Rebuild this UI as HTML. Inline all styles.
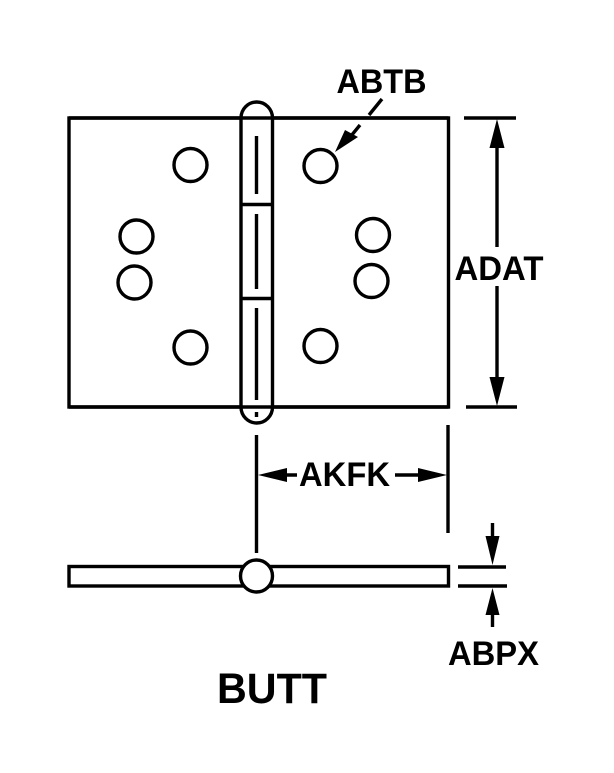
<!DOCTYPE html>
<html>
<head>
<meta charset="utf-8">
<style>
html,body{margin:0;padding:0;background:#fff;width:614px;height:773px;overflow:hidden}
svg{display:block}
text{font-family:"Liberation Sans",Arial,sans-serif;font-weight:bold;fill:#000}
</style>
</head>
<body>
<svg width="614" height="773" viewBox="0 0 614 773" xmlns="http://www.w3.org/2000/svg">
<rect width="614" height="773" fill="#fff"/>
<g fill="none" stroke="#000" stroke-width="3.400">
  <!-- leaf -->
  <rect x="69" y="118" width="379.500" height="289"/>
  <!-- pin -->
  <rect x="241" y="102" width="31" height="321" rx="15.500" ry="16" fill="#fff" stroke="none"/>
  <path d="M69 118H448.500M69 407H448.500"/>
  <path d="M241 118V407A15.750 16 0 0 0 272.500 407V118A15.750 16 0 0 0 241 118Z"/>
  <path d="M241 204.500H272.500M241 298.500H272.500"/>
  <path d="M256.500 136V194M256.500 214V289M256.500 308V400M256.500 412V417"/>
  <!-- holes -->
  <circle cx="190.500" cy="165" r="16.500"/>
  <circle cx="190.500" cy="347.500" r="16.500"/>
  <circle cx="136.500" cy="236.500" r="16.500"/>
  <circle cx="134.500" cy="282.500" r="16.500"/>
  <circle cx="320.500" cy="166" r="16.500"/>
  <circle cx="320.500" cy="346" r="16.500"/>
  <circle cx="373" cy="235" r="16.500"/>
  <circle cx="371.500" cy="281" r="16.500"/>
  <!-- ABTB leader -->
  <path d="M382 99L369 115M360 125L351 136"/>
  <!-- ADAT -->
  <path d="M464 118H516M466 407H517M497 140V247M497 286V385"/>
  <!-- AKFK -->
  <path d="M256.500 435V553M448 425V533M280 475H297M395 475H425"/>
  <!-- side view -->
  <rect x="69" y="566.500" width="379.500" height="19.500"/>
  <circle cx="256.500" cy="576" r="16" fill="#fff"/>
  <!-- ABPX -->
  <path d="M458 567H506M458 586H507M492.500 523V545M492.500 608V627"/>
</g>
<g fill="#000" stroke="none">
  <polygon points="335,152 345,130 358,137"/>
  <polygon points="497,119 489.500,148 504.500,148"/>
  <polygon points="497,406 489.500,377 504.500,377"/>
  <polygon points="258,475 287,468 287,482"/>
  <polygon points="447,475 418,468 418,482"/>
  <polygon points="492.500,565 485.500,536 499.500,536"/>
  <polygon points="492.500,588 485.500,615 499.500,615"/>
</g>
<text x="381.500" y="93" font-size="34" text-anchor="middle" textLength="90" lengthAdjust="spacingAndGlyphs">ABTB</text>
<text x="499" y="280" font-size="34" text-anchor="middle" textLength="89" lengthAdjust="spacingAndGlyphs">ADAT</text>
<text x="344.500" y="486" font-size="34" text-anchor="middle" textLength="91" lengthAdjust="spacingAndGlyphs">AKFK</text>
<text x="493.500" y="665" font-size="34" text-anchor="middle" textLength="91" lengthAdjust="spacingAndGlyphs">ABPX</text>
<text x="272" y="703" font-size="43" text-anchor="middle" textLength="110" lengthAdjust="spacingAndGlyphs">BUTT</text>
</svg>
</body>
</html>
